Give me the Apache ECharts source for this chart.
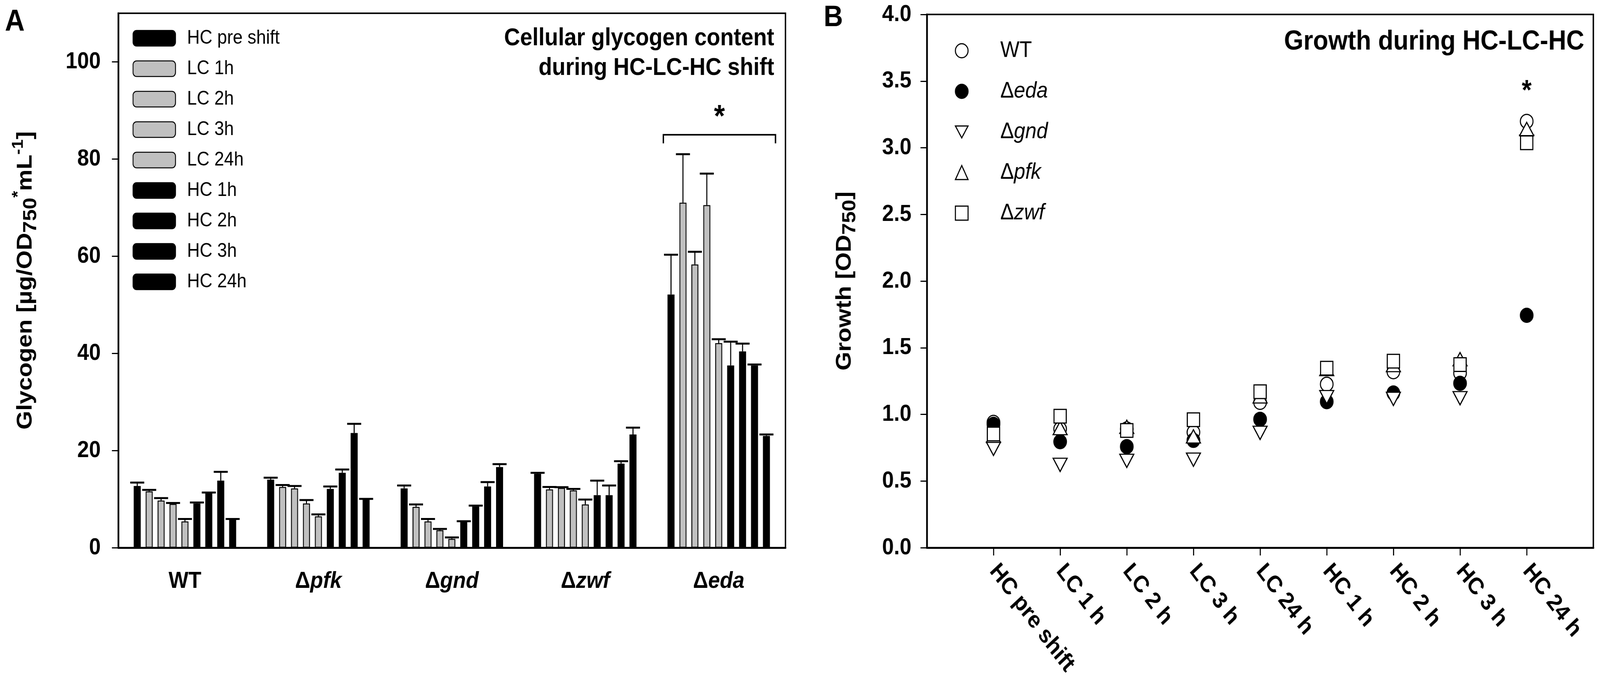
<!DOCTYPE html>
<html>
<head>
<meta charset="utf-8">
<script src="https://cdn.jsdelivr.net/npm/echarts@6/dist/echarts.min.js"></script>
<style>
  html, body { margin: 0; padding: 0; background: #fff; overflow: hidden; }
  #chart { width: 4561px; height: 1742px; transform-origin: 0 0; }
</style>
</head>
<body>
<div id="chart"></div>
<script>
// Panel A: cellular glycogen per strain, one bar per sampling point (mean + SD, upper whisker only)
const strains = ['WT', 'Δpfk', 'Δgnd', 'Δzwf', 'Δeda'];
const barPoints = ['HC pre shift', 'LC 1h', 'LC 2h', 'LC 3h', 'LC 24h', 'HC 1h', 'HC 2h', 'HC 3h', 'HC 24h'];

const glyWT  = [12.7, 11.6, 9.7, 9.0, 5.4, 9.1, 11.2, 13.8, 5.7];
const glyPfk = [14.0, 12.5, 12.2, 9.1, 6.45, 12.1, 15.4, 23.6, 9.9];
const glyGnd = [12.2, 8.4, 5.4, 3.6, 1.8, 5.3, 8.5, 12.6, 16.6];
const glyZwf = [15.2, 12.0, 12.3, 11.8, 8.9, 10.8, 10.8, 17.3, 23.3];
const glyEda = [52.1, 71.0, 58.3, 70.5, 42.1, 37.5, 40.4, 37.5, 23.0];

const errWT  = [0.7, 0.3, 0.5, 0.2, 0.5, 0.2, 0.15, 1.8, 0.2];
const errPfk = [0.4, 0.4, 0.5, 0.7, 0.4, 0.5, 0.7, 1.9, 0.15];
const errGnd = [0.6, 0.5, 0.5, 0.25, 0.3, 0.15, 0.15, 0.9, 0.6];
const errZwf = [0.2, 0.5, 0.15, 0.3, 1.0, 3.0, 2.0, 0.5, 1.4];
const errEda = [8.2, 10.0, 2.6, 6.5, 0.8, 4.9, 1.6, 0.2, 0.3];

const glyTicks = [0, 20, 40, 60, 80, 100];
const glyBracketLevel = 85;   // significance bracket over Δeda
const glyStarLevel = 88.5;

// Panel B: growth (OD750) per sampling point
const growthPoints = ['HC pre shift', 'LC 1 h', 'LC 2 h', 'LC 3 h', 'LC 24 h', 'HC 1 h', 'HC 2 h', 'HC 3 h', 'HC 24 h'];
const growthWT  = [0.94, 0.89, 0.89, 0.865, 1.09, 1.226, 1.32, 1.31, 3.198];
const growthEda = [0.925, 0.795, 0.758, 0.805, 0.963, 1.095, 1.16, 1.233, 1.743];
const growthGnd = [0.741, 0.621, 0.651, 0.66, 0.861, 1.129, 1.116, 1.121, 3.045];
const growthPfk = [0.84, 0.897, 0.907, 0.835, 1.135, 1.34, 1.37, 1.414, 3.141];
const growthZwf = [0.853, 0.986, 0.879, 0.960, 1.170, 1.346, 1.399, 1.373, 3.037];
const growthStarLevel = 3.42;

const FONT = "'Liberation Sans', Arial, Helvetica, sans-serif";
const BAR_W = 20;
const BAR_GAP = 0.7;                       // relative to bar width
const STEP = BAR_W * (1 + BAR_GAP);        // centre-to-centre distance of bars in a group
const CAP = 40;
const DOWN_TRIANGLE = 'path://M0,0L40,0L20,34Z';

const glyByStrain = [glyWT, glyPfk, glyGnd, glyZwf, glyEda];
const errByStrain = [errWT, errPfk, errGnd, errZwf, errEda];

const bold = (size, extra) => Object.assign({ fontFamily: FONT, fontWeight: 'bold', fontSize: size, color: '#000' }, extra || {});
const plain = (size, extra) => Object.assign({ fontFamily: FONT, fontWeight: 'normal', fontSize: size, color: '#000' }, extra || {});

const geneLabel = v => v.startsWith('Δ') ? '{d|Δ}{i|' + v.slice(1) + '}' : '{n|' + v + '}';

const barSeries = barPoints.map((name, k) => ({
  name,
  type: 'bar',
  xAxisIndex: 0, yAxisIndex: 0,
  barWidth: BAR_W,
  barGap: (BAR_GAP * 100) + '%',
  silent: true,
  itemStyle: { color: (k >= 1 && k <= 4) ? '#c0c0c0' : '#000', borderColor: '#000', borderWidth: 2.5 },
  data: glyByStrain.map(arr => arr[k])
}));

const errSeries = barPoints.map((name, k) => ({
  name: 'err ' + name,
  type: 'custom',
  xAxisIndex: 0, yAxisIndex: 0,
  silent: true,
  z: 3,
  data: glyByStrain.map((arr, i) => [i, arr[k], errByStrain[i][k]]),
  encode: { x: 0, y: 1 },
  renderItem: (params, api) => {
    const base = api.coord([api.value(0), api.value(1)]);
    const top = api.coord([api.value(0), api.value(1) + api.value(2)]);
    const x = base[0] + (k - 4) * STEP;
    return {
      type: 'group',
      children: [
        { type: 'line', shape: { x1: x, y1: base[1], x2: x, y2: top[1] }, style: { stroke: '#000', lineWidth: 3 } },
        { type: 'line', shape: { x1: x - CAP / 2, y1: top[1], x2: x + CAP / 2, y2: top[1] }, style: { stroke: '#000', lineWidth: 5 } }
      ]
    };
  }
}));

const bracketSeries = {
  name: 'bracket',
  type: 'custom',
  xAxisIndex: 0, yAxisIndex: 0,
  silent: true,
  z: 4,
  data: [[strains.indexOf('Δeda'), glyBracketLevel, glyStarLevel]],
  encode: { x: 0, y: 1 },
  renderItem: (params, api) => {
    const p = api.coord([api.value(0), api.value(1)]);
    const s = api.coord([api.value(0), api.value(2)]);
    const half = STEP * 4.7;
    const cx = p[0] + 2;
    return {
      type: 'group',
      children: [
        { type: 'polyline', shape: { points: [[cx - half, p[1] + 22], [cx - half, p[1]], [cx + half, p[1]], [cx + half, p[1] + 22]] },
          style: { stroke: '#000', lineWidth: 4, fill: null } },
        { type: 'text', x: cx, y: s[1], style: { text: '*', align: 'center', verticalAlign: 'middle', font: 'bold 80px ' + FONT, fill: '#000' } }
      ]
    };
  }
};

const growthStyles = [
  { name: 'WT',   values: growthWT,  symbol: 'circle',   fill: '#fff', size: 36, rotate: 0 },
  { name: 'Δeda', values: growthEda, symbol: 'circle',   fill: '#000', size: 36, rotate: 0 },
  { name: 'Δgnd', values: growthGnd, symbol: 'triangle', fill: '#fff', size: [40, 34], rotate: 180 },
  { name: 'Δpfk', values: growthPfk, symbol: 'triangle', fill: '#fff', size: [40, 34], rotate: 0 },
  { name: 'Δzwf', values: growthZwf, symbol: 'rect',     fill: '#fff', size: 35, rotate: 0 }
];

const scatterSeries = growthStyles.map(g => ({
  name: g.name,
  type: 'scatter',
  xAxisIndex: 1, yAxisIndex: 1,
  silent: true,
  symbol: g.symbol,
  symbolSize: g.size,
  symbolRotate: g.rotate,
  itemStyle: { color: g.fill, borderColor: '#000', borderWidth: 3, opacity: 1 },
  data: g.values.map((v, i) => [i + 1, v])
}));

const starSeries = {
  name: 'star B',
  type: 'custom',
  xAxisIndex: 1, yAxisIndex: 1,
  silent: true,
  data: [[growthPoints.length, growthStarLevel]],
  encode: { x: 0, y: 1 },
  renderItem: (params, api) => {
    const p = api.coord([api.value(0), api.value(1)]);
    return { type: 'text', x: p[0], y: p[1], style: { text: '*', align: 'center', verticalAlign: 'middle', font: 'bold 72px ' + FONT, fill: '#000' } };
  }
};

const nameRich = {
  b: bold(62, { verticalAlign: 'middle' }),
  sub: bold(54, { verticalAlign: 'bottom', padding: [30, 0, 0, 0] }),
  sup: bold(44, { verticalAlign: 'top' })
};

const option = {
  backgroundColor: '#fff',
  animation: false,
  grid: [
    { left: 337, top: 34, width: 1902, height: 1369, show: true, borderColor: '#000', borderWidth: 4, backgroundColor: 'transparent' },
    { left: 2642, top: 37, width: 1900, height: 1366, show: true, borderColor: '#000', borderWidth: 4, backgroundColor: 'transparent' }
  ],
  xAxis: [
    {
      gridIndex: 0, type: 'category', data: strains,
      axisLine: { lineStyle: { color: '#000', width: 5 } },
      axisTick: { alignWithLabel: true, length: 20, lineStyle: { color: '#000', width: 3 } },
      axisLabel: {
        margin: 56, formatter: geneLabel,
        rich: { n: bold(60), d: bold(60), i: bold(60, { fontStyle: 'italic' }) }
      },
      splitLine: { show: false }
    },
    {
      gridIndex: 1, type: 'category', boundaryGap: false,
      data: [''].concat(growthPoints, ['']),
      axisLine: { lineStyle: { color: '#000', width: 5 } },
      axisTick: { interval: idx => idx > 0 && idx <= growthPoints.length, length: 20, lineStyle: { color: '#000', width: 3 } },
      axisLabel: Object.assign(bold(60), { interval: 0, rotate: -50, margin: 50 }),
      splitLine: { show: false }
    }
  ],
  yAxis: [
    {
      gridIndex: 0, type: 'value', min: 0, max: 110, interval: 20,
      axisLine: { show: true, lineStyle: { color: '#000', width: 5 } },
      axisTick: { show: true, length: 18, customValues: glyTicks, lineStyle: { color: '#000', width: 3 } },
      axisLabel: Object.assign(bold(60), { margin: 50, customValues: glyTicks }),
      splitLine: { show: false },
      name: '{b|Glycogen [µg/OD}{sub|750}{sup|*}{b|mL}{sup|-1}{b|]}',
      nameLocation: 'middle', nameGap: 222, nameRotate: 90,
      nameTextStyle: { rich: nameRich }
    },
    {
      gridIndex: 1, type: 'value', min: 0, max: 4, interval: 0.5,
      axisLine: { show: true, lineStyle: { color: '#000', width: 5 } },
      axisTick: { show: true, length: 18, lineStyle: { color: '#000', width: 3 } },
      axisLabel: Object.assign(bold(60), { margin: 44, formatter: v => v.toFixed(1) }),
      splitLine: { show: false },
      name: '{b|Growth [OD}{sub|750}{b|]}',
      nameLocation: 'middle', nameGap: 192, nameRotate: 90,
      nameTextStyle: { rich: nameRich }
    }
  ],
  legend: [
    {
      data: barPoints, orient: 'vertical', left: 373, top: 68,
      itemWidth: 121, itemHeight: 40, itemGap: 28, icon: 'roundRect',
      selectedMode: false,
      itemStyle: { borderColor: '#000', borderWidth: 2.5 },
      textStyle: plain(50, { lineHeight: 40, padding: [0, 0, 0, 28] })
    },
    {
      data: growthStyles.map(g => g.rotate ? { name: g.name, icon: DOWN_TRIANGLE } : { name: g.name }),
      orient: 'vertical', left: 2717, top: 96,
      itemWidth: 36, itemHeight: 36, itemGap: 46,
      selectedMode: false,
      itemStyle: { borderColor: '#000', borderWidth: 3 },
      formatter: geneLabel,
      textStyle: plain(58, {
        lineHeight: 40, padding: [0, 0, 0, 87],
        rich: { n: plain(58, { lineHeight: 40 }), d: plain(58, { lineHeight: 40 }), i: plain(58, { lineHeight: 40, fontStyle: 'italic' }) }
      })
    }
  ],
  graphic: [
    { type: 'text', x: 14, y: 57, style: { text: 'A', font: 'bold 78px ' + FONT, fill: '#000', align: 'left', verticalAlign: 'middle' } },
    { type: 'text', x: 2348, y: 46, style: { text: 'B', font: 'bold 76px ' + FONT, fill: '#000', align: 'left', verticalAlign: 'middle' } },
    { type: 'text', x: 2207, y: 137, style: { text: 'Cellular glycogen content\nduring HC-LC-HC shift', font: 'bold 63px ' + FONT, lineHeight: 76, fill: '#000', align: 'right', verticalAlign: 'middle' } },
    { type: 'text', x: 4516, y: 107, style: { text: 'Growth during HC-LC-HC', font: 'bold 71px ' + FONT, fill: '#000', align: 'right', verticalAlign: 'middle' } }
  ],
  series: barSeries.concat(errSeries, [bracketSeries], scatterSeries, [starSeries])
};

// the drawing is laid out on a 4561x1742 sheet; stretch it over the whole viewport
const host = document.getElementById('chart');
const vw = document.documentElement.clientWidth || window.innerWidth;
const vh = document.documentElement.clientHeight || window.innerHeight;
const sx = vw / 4561, sy = vh / 1742;
if (Math.abs(sx - 1) > 0.002 || Math.abs(sy - 1) > 0.002) {
  host.style.transform = 'scale(' + sx + ',' + sy + ')';
}

const chart = echarts.init(host);
chart.setOption(option);
</script>
</body>
</html>
